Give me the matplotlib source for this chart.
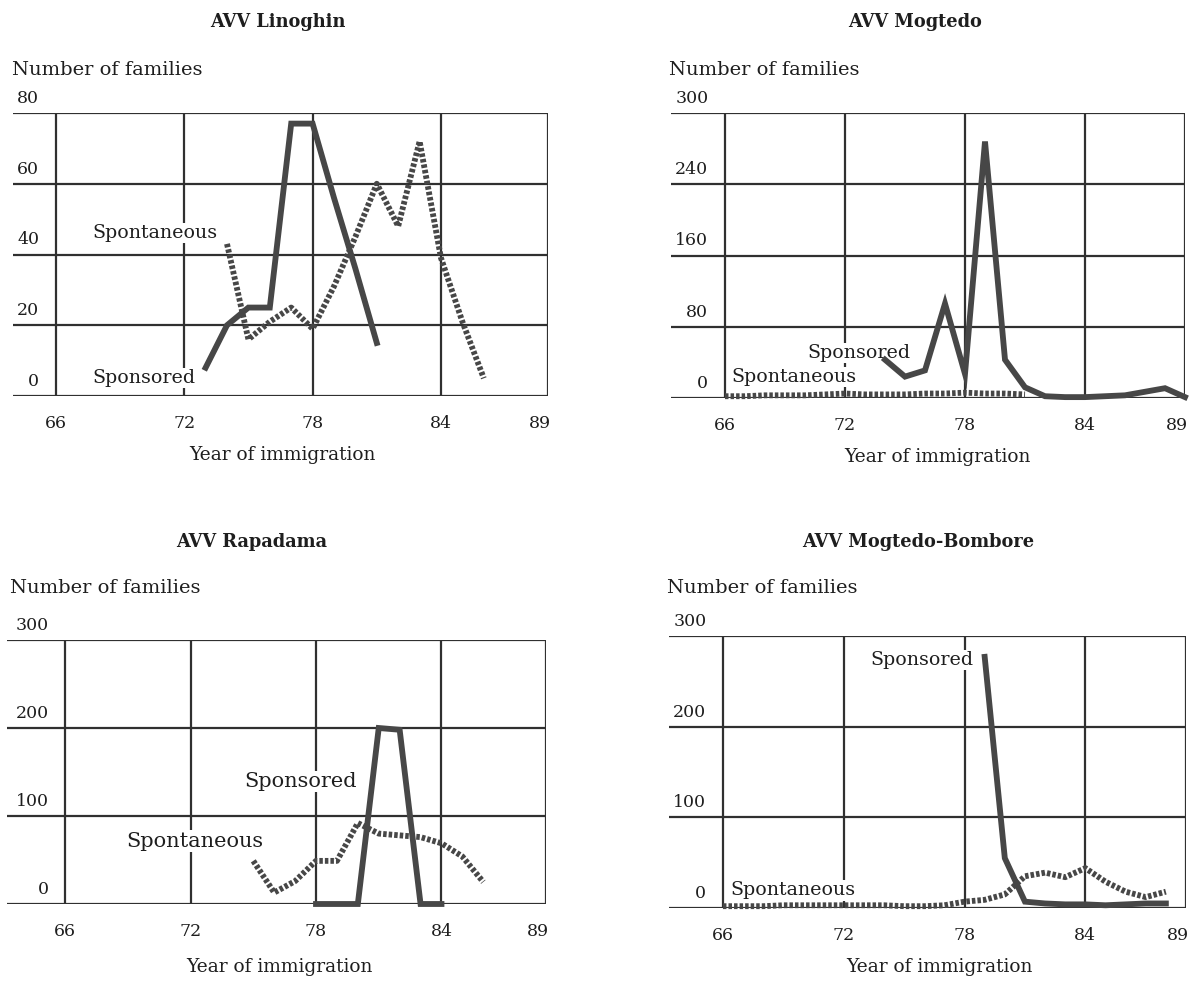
import matplotlib
matplotlib.use("Agg")
import matplotlib.pyplot as plt
from matplotlib.transforms import offset_copy

plt.rcParams['font.family'] = ['DejaVu Serif']

grid_years = [66, 72, 78, 84, 89]

# AVV Linoghin
lin_yticks = [0, 20, 40, 60, 80]
lin_sponsored_years = [73, 74, 75, 76, 77, 78, 79, 80, 81]
lin_sponsored = [8, 20, 25, 25, 77, 77, 56, 36, 15]
lin_spont_years = [74, 75, 76, 77, 78, 79, 80, 81, 82, 83, 84, 85, 86]
lin_spont = [43, 16, 21, 25, 19, 31, 45, 60, 48, 72, 39, 21, 5]

# AVV Mogtedo (rows are 80 apart, the top line is labelled 300 in the original)
mog_yticks = [0, 80, 160, 240, 320]
mog_ylabels = ['0', '80', '160', '240', '300']
mog_sponsored_years = [74, 75, 76, 77, 78, 79, 80, 81, 82, 83, 84, 85, 86, 87, 88, 89]
mog_sponsored = [43, 24, 31, 106, 27, 288, 43, 12, 2, 1, 1, 2, 3, 7, 11, 1]
mog_spont_years = [66, 67, 68, 69, 70, 71, 72, 73, 74, 75, 76, 77, 78, 79, 80, 81]
mog_spont = [2, 2, 3, 3, 3, 4, 5, 4, 4, 4, 5, 5, 6, 5, 5, 4]

# AVV Rapadama
rap_yticks = [0, 100, 200, 300]
rap_sponsored_years = [78, 79, 80, 81, 82, 83, 84]
rap_sponsored = [0, 0, 0, 200, 198, 0, 0]
rap_spont_years = [75, 76, 77, 78, 79, 80, 81, 82, 83, 84, 85, 86]
rap_spont = [49, 13, 26, 49, 49, 92, 80, 78, 76, 69, 54, 25]

# AVV Mogtedo-Bombore
bom_yticks = [0, 100, 200, 300]
bom_sponsored_years = [79, 80, 81, 82, 83, 84, 85, 86, 87, 88]
bom_sponsored = [277, 55, 7, 5, 4, 4, 3, 4, 5, 5]
bom_spont_years = [66, 67, 68, 69, 70, 71, 72, 73, 74, 75, 76, 77,
                   78, 79, 80, 81, 82, 83, 84, 85, 86, 87, 88]
bom_spont = [2, 2, 2, 3, 3, 3, 3, 3, 3, 2, 2, 3,
             7, 9, 15, 35, 39, 34, 44, 29, 18, 12, 18]

grid_c = '#303030'
line_c = '#474747'
text_c = '#1e1e1e'
dotted = (0, (0.6, 0.35))

fig = plt.figure(figsize=(12, 9.82), dpi=100)


def frame(rect, x_left, y_top, yticks, ylabels):
    ax = fig.add_axes(rect)
    ax.set_xlim(x_left, 89)
    ax.set_ylim(0, y_top)
    ax.axis('off')
    for y in yticks:
        ax.axhline(y, color=grid_c, lw=1.6, zorder=1)
    for x in grid_years:
        ax.axvline(x, color=grid_c, lw=1.6, zorder=1)
    ytrans = offset_copy(ax.transData, fig=fig, x=-12, y=10.5, units='points')
    for y, lab in zip(yticks, ylabels):
        ax.text(66, y, lab, transform=ytrans, ha='right', va='center',
                fontsize=12.5, color=text_c)
    xtrans = offset_copy(ax.transData, fig=fig, x=0, y=-19.5, units='points')
    last = offset_copy(ax.transData, fig=fig, x=2, y=-19.5, units='points')
    for x in grid_years:
        if x == grid_years[-1]:
            ax.text(x, 0, str(x), transform=last, ha='right', va='center',
                    fontsize=12.5, color=text_c)
        else:
            ax.text(x, 0, str(x), transform=xtrans, ha='center', va='center',
                    fontsize=12.5, color=text_c)
    return ax


def series(ax, sp_x, sp_y, st_x, st_y):
    ax.plot(st_x, st_y, color=line_c, lw=4.2, linestyle=dotted, zorder=3,
            clip_on=False, dash_capstyle='butt')
    ax.plot(sp_x, sp_y, color=line_c, lw=4.2, zorder=4, clip_on=False,
            solid_joinstyle='miter')


def label(ax, x, y, s, size):
    ax.text(x, y, s, fontsize=size, color=text_c, va='baseline', ha='left', zorder=2,
            bbox=dict(facecolor='white', edgecolor='none', pad=1))


def fig_text(x, y, s, **kw):
    fig.text(x / 1200, 1 - y / 982, s, color=text_c, **kw)


# top left
ax1 = frame([13 / 1200, 1 - 396 / 982, 535 / 1200, 283 / 982], 64.0, 80,
            lin_yticks, [str(v) for v in lin_yticks])
series(ax1, lin_sponsored_years, lin_sponsored, lin_spont_years, lin_spont)
label(ax1, 67.7, 44.7, 'Spontaneous', 13.7)
label(ax1, 67.7, 3.7, 'Sponsored', 13.7)

# top right
ax2 = frame([671 / 1200, 1 - 398 / 982, 514 / 1200, 285 / 982], 63.3, 320,
            mog_yticks, mog_ylabels)
series(ax2, mog_sponsored_years, mog_sponsored, mog_spont_years, mog_spont)
label(ax2, 70.1, 45, 'Sponsored', 13.7)
label(ax2, 66.33, 18, 'Spontaneous', 13.7)

# bottom left
ax3 = frame([7 / 1200, 1 - 904 / 982, 539 / 1200, 264 / 982], 63.22, 300,
            rap_yticks, [str(v) for v in rap_yticks])
series(ax3, rap_sponsored_years, rap_sponsored, rap_spont_years, rap_spont)
label(ax3, 74.55, 133, 'Sponsored', 15)
label(ax3, 68.93, 65, 'Spontaneous', 15)

# bottom right
ax4 = frame([669 / 1200, 1 - 908 / 982, 517 / 1200, 272 / 982], 63.32, 300,
            bom_yticks, [str(v) for v in bom_yticks])
series(ax4, bom_sponsored_years, bom_sponsored, bom_spont_years, bom_spont)
label(ax4, 73.3, 268, 'Sponsored', 13.7)
label(ax4, 66.38, 14, 'Spontaneous', 13.7)

# titles and axis captions
fig_text(278, 22, 'AVV Linoghin', ha='center', va='center', fontsize=12.8, fontweight='bold')
fig_text(915, 22, 'AVV Mogtedo', ha='center', va='center', fontsize=12.8, fontweight='bold')
fig_text(252, 542, 'AVV Rapadama', ha='center', va='center', fontsize=12.8, fontweight='bold')
fig_text(918, 542, 'AVV Mogtedo-Bombore', ha='center', va='center', fontsize=12.8, fontweight='bold')

for x, y in [(12, 70), (669, 70), (10, 588), (667, 588)]:
    fig_text(x, y, 'Number of families', ha='left', va='center', fontsize=14)

for x, y in [(282, 455), (937, 457), (279, 967), (939, 967)]:
    fig_text(x, y, 'Year of immigration', ha='center', va='center', fontsize=13.4)

fig.savefig('out.png', dpi=100, facecolor='white')
